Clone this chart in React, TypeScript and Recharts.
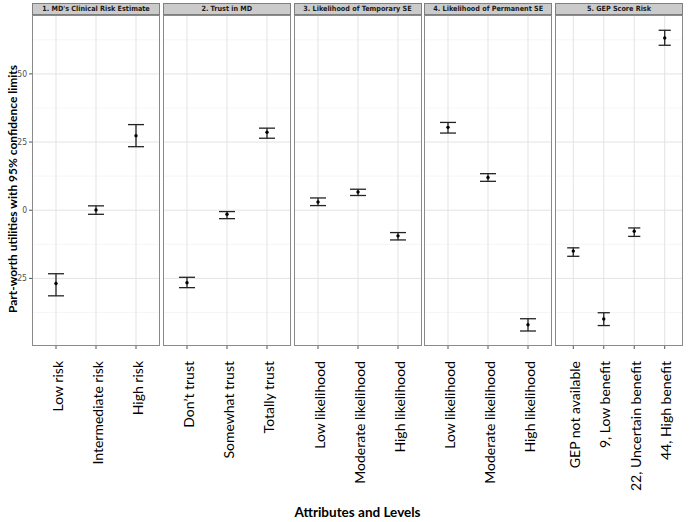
import { ComposedChart, Scatter, ErrorBar, XAxis, YAxis, CartesianGrid } from 'recharts';

// facet titles
const facetTitles = [
  "1. MD's Clinical Risk Estimate",
  '2. Trust in MD',
  '3. Likelihood of Temporary SE',
  '4. Likelihood of Permanent SE',
  '5. GEP Score Risk',
];

// 1. clinical risk
const riskLevels = ['Low risk', 'Intermediate  risk', 'High risk'];
const riskEst = [-26.9, 0.1, 27.3];
const riskLow = [-31.4, -1.5, 23.3];
const riskHigh = [-23.3, 1.6, 31.4];

// 2. trust
const trustLevels = ['Don\u2019t trust', 'Somewhat trust', 'Totally trust'];
const trustEst = [-26.6, -1.5, 28.6];
const trustLow = [-28.4, -3.1, 26.4];
const trustHigh = [-24.6, -0.5, 30.1];

// 3. temporary side effects
const tempLevels = ['Low likelihood', 'Moderate likelihood', 'High likelihood'];
const tempEst = [3.0, 6.7, -9.4];
const tempLow = [1.7, 5.4, -10.9];
const tempHigh = [4.5, 7.7, -8.2];

// 4. permanent side effects
const permLevels = ['Low likelihood', 'Moderate likelihood', 'High likelihood'];
const permEst = [30.4, 12.0, -42.0];
const permLow = [28.3, 10.6, -44.3];
const permHigh = [32.2, 13.4, -39.8];

// 5. GEP score
const gepLevels = ['GEP not available', '9, Low benefit', '22, Uncertain benefit', '44, High benefit'];
const gepEst = [-15.0, -39.9, -7.7, 63.2];
const gepLow = [-16.9, -42.3, -9.6, 60.5];
const gepHigh = [-13.8, -37.6, -6.5, 66.0];

const majorTicks = [-25, 0, 25, 50];
const minorTicks = [-37.5, -12.5, 12.5, 37.5, 62.5];
const Y_DOMAIN: [number, number] = [-49.8, 71.6];

const PANEL_TOP = 15;
const PANEL_H = 331;
const PANEL_W = 128;
const FIRST_LEFT = 32;
const STEP = 130.75;
const YAXIS_W = 32;
const CHART_H = 500;

const narrow = "'Liberation Sans Narrow', 'DejaVu Sans Condensed', 'Liberation Sans', sans-serif";
const bodyFont = "Lato, 'Open Sans', sans-serif";

interface FacetProps {
  idx: number;
  title: string;
  levels: string[];
  est: number[];
  lo: number[];
  hi: number[];
}

function Facet({ idx, title, levels, est, lo, hi }: FacetProps) {
  const left = FIRST_LEFT + idx * STEP;
  const withAxis = idx === 0;
  const axisW = withAxis ? YAXIS_W : 0;
  const n = levels.length;
  const rows = levels.map((_, i) => ({
    x: i + 1,
    y: est[i],
    err: [est[i] - lo[i], hi[i] - est[i]],
  }));
  const positions = levels.map((_, i) => i + 1);
  const catPx = PANEL_W / (n + 0.2);

  const renderTick = (props: any) => {
    const { x, y, payload } = props;
    return (
      <text
        transform={`translate(${x + 1},${y + 10}) rotate(-90)`}
        textAnchor="end"
        dominantBaseline="central"
        fontSize={14}
        fontFamily={bodyFont}
        fill="#000"
      >
        {levels[payload.value - 1]}
      </text>
    );
  };

  return (
    <>
      <div
        style={{
          position: 'absolute',
          left,
          top: 3,
          width: PANEL_W,
          height: 12,
          boxSizing: 'border-box',
          border: '1px solid #7f7f7f',
          background: '#cbcbcb',
          fontFamily: narrow,
          fontSize: 7.2,
          fontWeight: 'bold',
          color: '#1a1a1a',
          textAlign: 'center',
          lineHeight: '10px',
          whiteSpace: 'nowrap',
        }}
      >
        {title}
      </div>
      <div style={{ position: 'absolute', left: left - axisW, top: 0 }}>
        <ComposedChart
          width={PANEL_W + axisW}
          height={CHART_H}
          data={rows}
          margin={{ top: PANEL_TOP, right: 0, bottom: 0, left: 0 }}
        >
          <CartesianGrid horizontalValues={minorTicks} vertical={false} stroke="#f3f3f3" strokeWidth={0.8} />
          <CartesianGrid horizontalValues={majorTicks} verticalValues={positions} stroke="#e3e3e3" />
          <XAxis
            dataKey="x"
            type="number"
            domain={[0.4, n + 0.6]}
            ticks={positions}
            interval={0}
            allowDataOverflow
            height={CHART_H - PANEL_TOP - PANEL_H}
            axisLine={false}
            tickLine={{ stroke: '#555' }}
            tickSize={3}
            tick={renderTick}
          />
          <YAxis
            dataKey="y"
            type="number"
            domain={Y_DOMAIN}
            ticks={majorTicks}
            allowDataOverflow
            hide={!withAxis}
            width={YAXIS_W}
            axisLine={false}
            tickLine={{ stroke: '#555' }}
            tickSize={3}
            tickMargin={2}
            tick={{ fontSize: 8.5, fill: '#4d4d4d', fontFamily: narrow }}
          />
          <Scatter
            dataKey="y"
            isAnimationActive={false}
            shape={(p: any) => <circle cx={p.cx} cy={p.cy} r={1.7} fill="#000" />}
          >
            <ErrorBar
              dataKey="err"
              direction="y"
              width={catPx * 0.2}
              stroke="#222"
              strokeWidth={1.3}
            />
          </Scatter>
        </ComposedChart>
      </div>
      <div
        style={{
          position: 'absolute',
          left,
          top: PANEL_TOP,
          width: PANEL_W,
          height: PANEL_H,
          boxSizing: 'border-box',
          border: '1px solid #8a8a8a',
          pointerEvents: 'none',
        }}
      />
    </>
  );
}

export default function App() {
  const facets = [
    { levels: riskLevels, est: riskEst, lo: riskLow, hi: riskHigh },
    { levels: trustLevels, est: trustEst, lo: trustLow, hi: trustHigh },
    { levels: tempLevels, est: tempEst, lo: tempLow, hi: tempHigh },
    { levels: permLevels, est: permEst, lo: permLow, hi: permHigh },
    { levels: gepLevels, est: gepEst, lo: gepLow, hi: gepHigh },
  ];

  return (
    <div style={{ position: 'absolute', left: 0, top: 0, width: 690, height: 522, background: '#fff', overflow: 'hidden' }}>
      {facets.map((f, i) => (
        <Facet key={i} idx={i} title={facetTitles[i]} {...f} />
      ))}
      <svg width={690} height={522} style={{ position: 'absolute', left: 0, top: 0, pointerEvents: 'none' }}>
        <text
          transform="translate(12,189) rotate(-90)"
          textAnchor="middle"
          dominantBaseline="central"
          fontFamily={bodyFont}
          fontWeight="bold"
          fontSize={12}
          fill="#000"
        >
          Part-worth utilities with 95% confidence limits
        </text>
        <text
          x={FIRST_LEFT + (4 * STEP + PANEL_W) / 2}
          y={512}
          textAnchor="middle"
          dominantBaseline="central"
          fontFamily={bodyFont}
          fontWeight="bold"
          fontSize={13.5}
          fill="#000"
        >
          Attributes and Levels
        </text>
      </svg>
    </div>
  );
}
